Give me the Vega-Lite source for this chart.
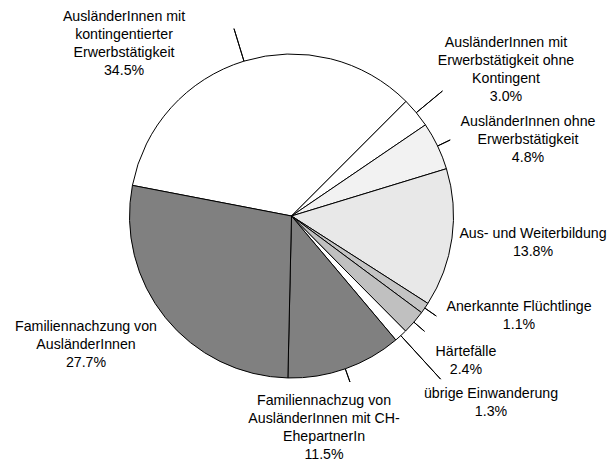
{
  "$schema": "https://vega.github.io/schema/vega-lite/v6.json",
  "width": 583,
  "height": 432,
  "autosize": "none",
  "padding": {"left": 0, "top": 0, "right": 27, "bottom": 34},
  "background": "white",
  "config": {"view": {"stroke": null}},
  "data": {
    "values": [
      {"idx": 1, "key": "k1", "value": 34.5, "label": "AusländerInnen mit\nkontingentierter\nErwerbstätigkeit\n34.5%"},
      {"idx": 2, "key": "k2", "value": 3.0, "label": "AusländerInnen mit\nErwerbstätigkeit ohne\nKontingent\n3.0%"},
      {"idx": 3, "key": "k3", "value": 4.8, "label": "AusländerInnen ohne\nErwerbstätigkeit\n4.8%"},
      {"idx": 4, "key": "k4", "value": 13.8, "label": "Aus- und Weiterbildung\n13.8%"},
      {"idx": 5, "key": "k5", "value": 1.1, "label": "Anerkannte Flüchtlinge\n1.1%"},
      {"idx": 6, "key": "k6", "value": 2.4, "label": "Härtefälle\n2.4%"},
      {"idx": 7, "key": "k7", "value": 1.3, "label": "übrige Einwanderung\n1.3%"},
      {"idx": 8, "key": "k8", "value": 11.5, "label": "Familiennachzug von\nAusländerInnen mit CH-\nEhepartnerIn\n11.5%"},
      {"idx": 9, "key": "k9", "value": 27.7, "label": "Familiennachzung von\nAusländerInnen\n27.7%"}
    ]
  },
  "transform": [
    {"stack": "value", "groupby": [], "sort": [{"field": "idx", "order": "ascending"}], "as": ["v0", "v1"]}
  ],
  "layer": [
    {
      "mark": {"type": "arc", "outerRadius": 162, "stroke": "black", "strokeWidth": 1},
      "encoding": {
        "theta": {"field": "v0", "type": "quantitative", "scale": {"domain": [0, 100.1], "range": [-1.38056, 4.90263]}},
        "theta2": {"field": "v1"},
        "color": {
          "field": "key", "type": "nominal", "legend": null,
          "scale": {
            "domain": ["k1", "k2", "k3", "k4", "k5", "k6", "k7", "k8", "k9"],
            "range": ["#ffffff", "#ffffff", "#f2f2f2", "#e8e8e8", "#c4c4c4", "#c0c0c0", "#ffffff", "#808080", "#808080"]
          }
        }
      }
    },
    {
      "transform": [{"filter": "indexof(['k3','k5','k6','k8'], datum.key) >= 0"}],
      "mark": {"type": "arc", "innerRadius": 162, "outerRadius": 176, "padAngle": 3, "fill": "transparent", "stroke": "black", "strokeWidth": 1},
      "encoding": {
        "theta": {"field": "v0", "type": "quantitative", "scale": {"domain": [0, 100.1], "range": [-1.38056, 4.90263]}},
        "theta2": {"field": "v1"}
      }
    },
    {
      "transform": [{"filter": "indexof(['k1','k2'], datum.key) >= 0"}],
      "mark": {"type": "arc", "innerRadius": 162, "outerRadius": 196, "padAngle": 3, "fill": "transparent", "stroke": "black", "strokeWidth": 1},
      "encoding": {
        "theta": {"field": "v0", "type": "quantitative", "scale": {"domain": [0, 100.1], "range": [-1.38056, 4.90263]}},
        "theta2": {"field": "v1"}
      }
    },
    {
      "transform": [{"filter": "datum.key === 'k7'"}],
      "mark": {"type": "arc", "innerRadius": 162, "outerRadius": 221, "padAngle": 3, "fill": "transparent", "stroke": "black", "strokeWidth": 1},
      "encoding": {
        "theta": {"field": "v0", "type": "quantitative", "scale": {"domain": [0, 100.1], "range": [-1.38056, 4.90263]}},
        "theta2": {"field": "v1"}
      }
    },
    {
      "mark": {"type": "text", "radius": 215, "dx": -104.4, "dy": 6.5, "align": "center", "baseline": "middle", "lineBreak": "\n", "lineHeight": 18, "fontSize": 14.2, "font": "Liberation Sans", "color": "black"},
      "encoding": {
        "theta": {"field": "value", "type": "quantitative", "stack": true, "scale": {"domain": [0, 100.1], "range": [-1.38056, 4.90263]}},
        "order": {"field": "idx", "type": "quantitative"},
        "text": {"condition": {"test": "datum.key === 'k1'", "field": "label", "type": "nominal"}, "value": ""}
      }
    },
    {
      "mark": {"type": "text", "radius": 215, "dx": 48.9, "dy": -35.9, "align": "center", "baseline": "middle", "lineBreak": "\n", "lineHeight": 18, "fontSize": 14.2, "font": "Liberation Sans", "color": "black"},
      "encoding": {
        "theta": {"field": "value", "type": "quantitative", "stack": true, "scale": {"domain": [0, 100.1], "range": [-1.38056, 4.90263]}},
        "order": {"field": "idx", "type": "quantitative"},
        "text": {"condition": {"test": "datum.key === 'k2'", "field": "label", "type": "nominal"}, "value": ""}
      }
    },
    {
      "mark": {"type": "text", "radius": 215, "dx": 42.6, "dy": -1.1, "align": "center", "baseline": "middle", "lineBreak": "\n", "lineHeight": 18, "fontSize": 14.2, "font": "Liberation Sans", "color": "black"},
      "encoding": {
        "theta": {"field": "value", "type": "quantitative", "stack": true, "scale": {"domain": [0, 100.1], "range": [-1.38056, 4.90263]}},
        "order": {"field": "idx", "type": "quantitative"},
        "text": {"condition": {"test": "datum.key === 'k3'", "field": "label", "type": "nominal"}, "value": ""}
      }
    },
    {
      "mark": {"type": "text", "radius": 215, "dx": 28.5, "dy": -11.4, "align": "center", "baseline": "middle", "lineBreak": "\n", "lineHeight": 18, "fontSize": 14.2, "font": "Liberation Sans", "color": "black"},
      "encoding": {
        "theta": {"field": "value", "type": "quantitative", "stack": true, "scale": {"domain": [0, 100.1], "range": [-1.38056, 4.90263]}},
        "order": {"field": "idx", "type": "quantitative"},
        "text": {"condition": {"test": "datum.key === 'k4'", "field": "label", "type": "nominal"}, "value": ""}
      }
    },
    {
      "mark": {"type": "text", "radius": 215, "dx": 50.6, "dy": -31.2, "align": "center", "baseline": "middle", "lineBreak": "\n", "lineHeight": 18, "fontSize": 14.2, "font": "Liberation Sans", "color": "black"},
      "encoding": {
        "theta": {"field": "value", "type": "quantitative", "stack": true, "scale": {"domain": [0, 100.1], "range": [-1.38056, 4.90263]}},
        "order": {"field": "idx", "type": "quantitative"},
        "text": {"condition": {"test": "datum.key === 'k5'", "field": "label", "type": "nominal"}, "value": ""}
      }
    },
    {
      "mark": {"type": "text", "radius": 215, "dx": 12, "dy": -4.8, "align": "center", "baseline": "middle", "lineBreak": "\n", "lineHeight": 18, "fontSize": 14.2, "font": "Liberation Sans", "color": "black"},
      "encoding": {
        "theta": {"field": "value", "type": "quantitative", "stack": true, "scale": {"domain": [0, 100.1], "range": [-1.38056, 4.90263]}},
        "order": {"field": "idx", "type": "quantitative"},
        "text": {"condition": {"test": "datum.key === 'k6'", "field": "label", "type": "nominal"}, "value": ""}
      }
    },
    {
      "mark": {"type": "text", "radius": 215, "dx": 54.5, "dy": 19.3, "align": "center", "baseline": "middle", "lineBreak": "\n", "lineHeight": 18, "fontSize": 14.2, "font": "Liberation Sans", "color": "black"},
      "encoding": {
        "theta": {"field": "value", "type": "quantitative", "stack": true, "scale": {"domain": [0, 100.1], "range": [-1.38056, 4.90263]}},
        "order": {"field": "idx", "type": "quantitative"},
        "text": {"condition": {"test": "datum.key === 'k7'", "field": "label", "type": "nominal"}, "value": ""}
      }
    },
    {
      "mark": {"type": "text", "radius": 215, "dx": -38.9, "dy": -17.3, "align": "center", "baseline": "middle", "lineBreak": "\n", "lineHeight": 18, "fontSize": 14.2, "font": "Liberation Sans", "color": "black"},
      "encoding": {
        "theta": {"field": "value", "type": "quantitative", "stack": true, "scale": {"domain": [0, 100.1], "range": [-1.38056, 4.90263]}},
        "order": {"field": "idx", "type": "quantitative"},
        "text": {"condition": {"test": "datum.key === 'k8'", "field": "label", "type": "nominal"}, "value": ""}
      }
    },
    {
      "mark": {"type": "text", "radius": 215, "dx": -38.2, "dy": -24, "align": "center", "baseline": "middle", "lineBreak": "\n", "lineHeight": 18, "fontSize": 14.2, "font": "Liberation Sans", "color": "black"},
      "encoding": {
        "theta": {"field": "value", "type": "quantitative", "stack": true, "scale": {"domain": [0, 100.1], "range": [-1.38056, 4.90263]}},
        "order": {"field": "idx", "type": "quantitative"},
        "text": {"condition": {"test": "datum.key === 'k9'", "field": "label", "type": "nominal"}, "value": ""}
      }
    }
  ]
}
